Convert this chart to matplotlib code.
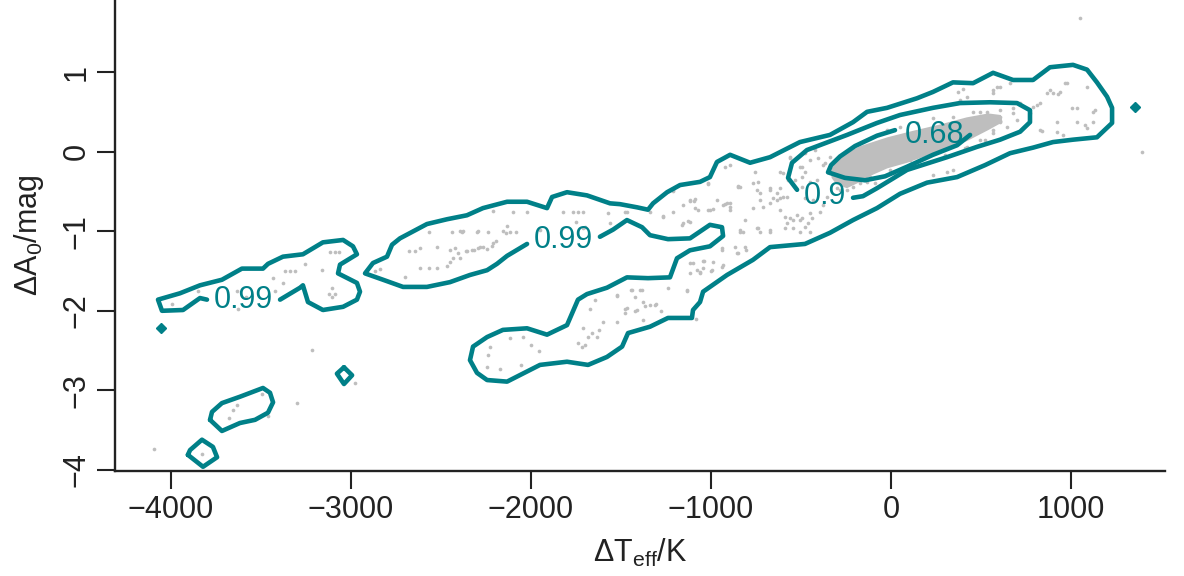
import matplotlib
matplotlib.use('Agg')
import matplotlib.pyplot as plt

plt.rcParams['font.family'] = ['Liberation Sans', 'DejaVu Sans']
plt.rcParams['mathtext.fontset'] = 'custom'
plt.rcParams['mathtext.rm'] = 'Liberation Sans'
plt.rcParams['mathtext.it'] = 'Liberation Sans:italic'

TEAL = '#008088'
GREY = '#BEBEBE'

# ---------------- data ----------------
x_ticks = [-4000, -3000, -2000, -1000, 0, 1000]
y_ticks = [-4, -3, -2, -1, 0, 1]

# dense core of the point cloud (outline)
core_x = [-335, -285, -170, -20, 120, 270, 420, 540, 610, 620, 540, 420, 310, 200, 90, -20, -100, -170, -245, -305, -330]
core_y = [-0.23, -0.06, 0.07, 0.18, 0.26, 0.34, 0.43, 0.48, 0.46, 0.37, 0.27, 0.13, 0.04, -0.05, -0.14, -0.21, -0.29, -0.38, -0.46, -0.41, -0.33]

# individual points
left_x = [1050, 1394, -4094, -3828, -3217, -3300, -2978, -3494, -3633, -3656, -3678, -3461,
          -3994, -3850, -3633, -3583, -3628, -3433, -3378, -3422, -3367, -3339, -3311, -3256,
          -3161, -3117, -3089, -3067, -3106, -3122, -3089, -3106]
left_y = [1.68, -0.01, -3.74, -3.80, -2.49, -3.16, -2.91, -3.05, -3.18, -3.25, -3.35, -3.32,
          -1.91, -1.75, -1.75, -1.83, -1.98, -1.59, -1.65, -1.75, -1.50, -1.50, -1.50, -1.41,
          -1.49, -1.26, -1.26, -1.26, -1.71, -1.79, -1.79, -1.83]

band_x = [-2839, -2867, -2700, -2617, -2567, -2522, -2467, -2450, -2433, -2394, -2406, -2356, -2317,
          -2294, -2267, -2244, -2217, -2194, -2678, -2644, -2617, -2522, -2450, -2422, -2567, -2439,
          -2394, -2378, -2294, -2239, -2156, -2139, -2083, -2133, -2211, -2100, -2022, -1950, -1822,
          -1767, -1739, -1711, -1750, -1700, -1572, -1561, -1478, -1267, -1211, -1211, -1156, -1117,
          -1094, -1156, -1128, -1017, -989, -922, -894, -850, -1017, -822, -939, -850, -1117, -1044,
          -1078, -994, -933, -1239, -1394, -1422, -1522, -1378, -1339, -1311, -1467, -1478, -1411,
          -1672, -1644, -1711, -2117, -2300, -2383, -2361, -2328, -2283, -2211]
band_y = [-1.47, -1.50, -1.58, -1.46, -1.46, -1.46, -1.44, -1.39, -1.34, -1.34, -1.27, -1.25, -1.24,
          -1.21, -1.20, -1.22, -1.19, -1.12, -1.25, -1.25, -1.21, -1.20, -1.24, -1.21, -1.01, -1.01,
          -1.00, -1.00, -1.00, -1.01, -1.00, -1.02, -1.01, -0.93, -0.75, -0.76, -0.76, -0.98, -0.76,
          -0.76, -0.76, -0.76, -0.88, -0.95, -0.77, -0.90, -0.76, -0.82, -0.76, -0.49, -0.67, -0.62,
          -0.62, -0.90, -0.87, -0.73, -0.72, -0.66, -0.65, -0.43, -0.41, -1.01, -1.21, -1.27, -1.40, -1.37,
          -1.49, -1.49, -1.42, -1.71, -1.74, -1.83, -1.81, -1.89, -1.93, -1.93, -1.96, -2.03, -1.99,
          -1.98, -1.86, -0.96, -1.01, -1.01, -1.01, -1.25, -1.24, -1.20, -1.15]

lobe_x = [-2228, -2239, -2244, -2172, -2056, -2117, -2044, -2000, -1956, -1739, -1717, -1700, -1683,
          -1661, -1633, -1622, -1711, -1600, -1522, -1378, -1478, -1422, -1367, -1306, -1278, -1522,
          -1444, -1383, -1133, -1100, -1061, -1039, -1000, -939, -856, -806, -1083, -839, -739, -672,
          -1117, -1161, -1267, -1089, -933, -911, -811]
lobe_y = [-2.45, -2.56, -2.71, -2.73, -2.68, -2.34, -2.33, -2.43, -2.51, -2.40, -2.45, -2.43, -2.33,
          -2.28, -2.33, -2.24, -2.22, -2.14, -2.14, -2.12, -1.98, -2.00, -1.94, -1.91, -2.00, -1.80,
          -1.74, -1.74, -1.74, -1.40, -1.51, -1.37, -1.50, -1.24, -1.27, -1.24, -2.10, -1.01, -0.96, -1.01,
          -0.88, -0.92, -0.81, -0.71, -0.67, -0.65, -0.86]

mid_x = [-894, -922, -756, -739, -850, -1017, -1211, -1117, -1089, -1006, -1072, -744, -728, -672,
         -633, -617, -617, -656, -600, -589, -544, -522, -494, -439, -544, -589, -478, -506, -572, -533,
         -600, -494, -478, -494, -478, -406, -561, -378, -744, -839, -811, -867, -939, -989, -1044,
         -1061, -1117, -1133, -967, -894, -1339, -1467, -1439, -767, -728, -672, -478, -433,
         -617, -561, -506, -450, -422, -367, -339, -411, -450, -494, -356, -300, -244, -211, -172,
         -133, -839, -767, -672, -633, -578, -711, -617, -561, -506, -461, -578, -450, -394, -378,
         -894, -728, -672, -450]
mid_y = [-0.17, -0.19, -0.26, -0.38, -0.44, -0.39, -0.48, -0.61, -0.60, -0.73, -0.73, -0.48, -0.52, -0.48,
         -0.52, -0.46, -0.58, -0.58, -0.57, -0.82, -0.86, -0.80, -0.83, -0.83, -0.96, -0.96, -0.95, -1.01,
         -0.36, -0.36, -0.27, -0.19, -0.26, -0.32, -0.02, -0.08, -0.07, -0.17, -0.96, -0.98, -1.20, -1.20,
         -1.45, -1.39, -1.46, -1.53, -1.53, -1.75, -0.61, -0.73, -0.76, -0.76, -1.74, -0.71, -0.61, -0.65,
         -0.58, -0.61, -0.26, -0.08, -0.19, -0.11, 0.02, -0.14, -0.07, -0.36, -0.38, -0.44, -0.57, -0.46,
         -0.48, -0.44, -0.39, -0.38, -0.44, -0.39, -0.46, -0.61, -0.57, -0.70, -0.73, -0.83, -0.86, -0.90,
         -0.90, -0.77, -0.76, -0.67, -0.70, -1.01, -0.98, -1.01]

right_x = [344, 233, 422, 494, 567, 533, 606, 678, 717, 383, 422, 567, 589, 661, 900, 939, 978, 883,
           828, 1033, 1122, 1033, 1122, 828, 956, 1089, 922, 772, 811, 372, 400, 606, 567, 867, 928,
           967, 1089, 1006, 1133, 1078, 922, 839, 789, 311, 367, 494,
           -22, 50, 144, 233, 344, 456, 533, 606, 678, 700, 644, 567, 511, 422, 383, 606, 328, 217,
           106, -6, -117, -228, -283, -89, 22, 161, 300, 411, 522]
right_y = [-0.23, -0.29, 0.06, 0.15, 0.23, 0.36, 0.43, 0.55, 0.61, 0.65, 0.69, 0.77, 0.81, 0.86, 0.74,
           0.75, 0.86, 0.77, 0.61, 0.55, 0.50, 0.37, 0.37, 0.27, 0.21, 0.30, 0.25, 0.48, 0.59, 0.75, 0.79,
           0.81, 0.74, 0.74, 0.72, 0.86, 0.81, 0.55, 0.52, 0.33, 0.37, 0.26, 0.56, -0.26, 0.61, 0.50,
           0.27, 0.31, 0.36, 0.42, 0.43, 0.50, 0.50, 0.52, 0.48, 0.40, 0.31, 0.27, 0.33, 0.23, 0.30, 0.37,
           0.15, 0.02, -0.11, -0.23, -0.32, -0.39, -0.48, -0.39, -0.29, -0.17, -0.04, 0.05, 0.15]

# contour lines (level 0.99, main region), open at the label
c99_main_x = [-1617, -1544, -1467, -1383, -1339, -1239, -1117, -1006, -939, -933, -1006, -1117, -1189,
              -1228, -1350, -1467, -1578, -1689, -1739, -1800, -1911, -2022, -2156, -2244, -2322, -2339,
              -2300, -2244, -2133, -1950, -1800, -1683, -1578, -1494, -1461, -1339, -1239, -1106, -1100,
              -1061, -1044, -911, -767, -672, -478, -339, -211, -78, 50, 200, 367, 522, 661, 789, 900,
              1011, 1144, 1228, 1228, 1200, 1144, 1089, 1011, 883, 789, 678, 567, 456, 344, 233, 144,
              -22, -133, -211, -339, -506, -672, -783, -894, -967, -1006, -1061, -1172, -1244, -1322,
              -1350, -1411, -1506, -1561, -1689, -1800, -1883, -1911, -2022, -2133, -2267, -2356, -2467,
              -2578, -2728, -2772, -2800, -2878, -2922, -2822, -2711, -2578, -2450, -2339, -2244, -2189,
              -2133, -2022]
c99_main_y = [-1.07, -0.98, -0.86, -0.95, -1.05, -1.10, -1.09, -0.92, -0.95, -1.06, -1.19, -1.24, -1.34,
              -1.58, -1.59, -1.58, -1.71, -1.79, -1.86, -2.18, -2.30, -2.22, -2.24, -2.33, -2.45, -2.62,
              -2.78, -2.87, -2.89, -2.68, -2.64, -2.68, -2.58, -2.45, -2.28, -2.20, -2.09, -2.09, -1.99,
              -1.89, -1.76, -1.55, -1.36, -1.20, -1.16, -1.02, -0.86, -0.71, -0.53, -0.39, -0.32, -0.17,
              -0.02, 0.05, 0.12, 0.15, 0.18, 0.36, 0.55, 0.69, 0.87, 1.03, 1.09, 1.06, 0.90, 0.90, 0.99,
              0.86, 0.87, 0.75, 0.67, 0.55, 0.50, 0.37, 0.21, 0.12, -0.07, -0.14, -0.04, -0.13, -0.32,
              -0.38, -0.42, -0.51, -0.65, -0.73, -0.70, -0.66, -0.65, -0.55, -0.51, -0.57, -0.71, -0.63,
              -0.63, -0.71, -0.80, -0.85, -0.91, -1.09, -1.17, -1.32, -1.40, -1.53, -1.61, -1.70, -1.70,
              -1.64, -1.55, -1.49, -1.41, -1.31, -1.16]

# level 0.99, left region, open at the label
c99_left_x = [-3800, -3839, -3933, -4050, -4072, -3950, -3839, -3717, -3606, -3489, -3461, -3378, -3267,
              -3156, -3044, -2989, -2967, -3061, -3072, -2967, -2950, -2967, -3044, -3156, -3239, -3267,
              -3283, -3394]
c99_left_y = [-1.86, -1.84, -1.99, -2.00, -1.86, -1.78, -1.68, -1.61, -1.47, -1.47, -1.41, -1.32, -1.29,
              -1.14, -1.11, -1.19, -1.29, -1.42, -1.53, -1.65, -1.76, -1.86, -1.95, -1.99, -1.89, -1.68,
              -1.71, -1.86]

# small closed 0.99 islands
c99_diamond_x = [-3039, -2994, -3039, -3078, -3039]
c99_diamond_y = [-2.71, -2.81, -2.92, -2.79, -2.71]
c99_blob_x = [-3783, -3772, -3717, -3617, -3489, -3450, -3433, -3461, -3533, -3617, -3717, -3783]
c99_blob_y = [-3.37, -3.27, -3.16, -3.08, -2.97, -3.03, -3.15, -3.28, -3.37, -3.41, -3.51, -3.37]
c99_foot_x = [-3906, -3894, -3828, -3767, -3744, -3822, -3906]
c99_foot_y = [-3.81, -3.75, -3.62, -3.71, -3.84, -3.96, -3.81]
c99_dots_x = [-4056, 1356]
c99_dots_y = [-2.22, 0.56]

# level 0.9 and 0.68, open at the labels
c90_x = [-211, -156, -78, 89, 311, 478, 606, 717, 772, 772, 700, 550, 383, 233, 50, -78, -244, -467,
         -550, -572, -522]
c90_y = [-0.58, -0.56, -0.46, -0.23, -0.07, 0.06, 0.15, 0.25, 0.37, 0.52, 0.61, 0.62, 0.61, 0.55, 0.46,
         0.36, 0.21, 0.02, -0.14, -0.33, -0.48]
c68_x = [439, 367, 233, 89, -33, -144, -256, -350, -333, -283, -200, -78, 22]
c68_y = [0.21, 0.08, -0.04, -0.19, -0.31, -0.36, -0.33, -0.26, -0.17, -0.06, 0.07, 0.20, 0.27]

labels_text = ['0.99', '0.99', '0.9', '0.68']
labels_x = [-1822, -3600, -367, 239]
labels_y = [-1.11, -1.86, -0.56, 0.21]

# ---------------- figure ----------------
fig = plt.figure(figsize=(11.84, 5.76), dpi=100)
ax = fig.add_axes([115 / 1184, 105 / 576, 1050 / 1184, 471 / 576])
ax.set_xlim(-4311, 1522)
ax.set_ylim(-4.013, 1.905)

ax.fill(core_x, core_y, color=GREY, lw=0, zorder=1)
for xs, ys in [(left_x, left_y), (band_x, band_y), (lobe_x, lobe_y), (mid_x, mid_y), (right_x, right_y)]:
    ax.scatter(xs, ys, s=7, color=GREY, linewidths=0, zorder=2)

line_kw = dict(color=TEAL, lw=3.3, solid_joinstyle='round', solid_capstyle='round', zorder=3)
for xs, ys in [(c99_main_x, c99_main_y), (c99_left_x, c99_left_y), (c99_diamond_x, c99_diamond_y),
               (c99_blob_x, c99_blob_y), (c99_foot_x, c99_foot_y), (c90_x, c90_y), (c68_x, c68_y)]:
    ax.plot(xs, ys, **line_kw)
ax.plot(c99_dots_x, c99_dots_y, ls='none', marker='D', ms=5.5, color=TEAL, zorder=3)

for t, lx, ly in zip(labels_text, labels_x, labels_y):
    ax.text(lx, ly, t, color=TEAL, fontsize=22, ha='center', va='center', zorder=4)

for s in ['top', 'right']:
    ax.spines[s].set_visible(False)
for s in ['left', 'bottom']:
    ax.spines[s].set_linewidth(1.7)
    ax.spines[s].set_color('#222222')

ax.set_xticks(x_ticks)
ax.set_yticks(y_ticks)
ax.tick_params(direction='out', length=13, width=1.5, labelsize=22, pad=4, color='#222222',
               labelcolor='#222222')
for lab in ax.get_yticklabels():
    lab.set_rotation(90)
    lab.set_va('center')

ax.set_xlabel(r'$\mathrm{\Delta T_{eff}/K}$', fontsize=22, color='#222222')
ax.set_ylabel(r'$\mathrm{\Delta A_0/mag}$', fontsize=22, color='#222222')
ax.xaxis.set_label_coords(0.5, -0.14)
ax.yaxis.set_label_coords(-0.066, 0.5)

fig.savefig('out.png', dpi=100)
